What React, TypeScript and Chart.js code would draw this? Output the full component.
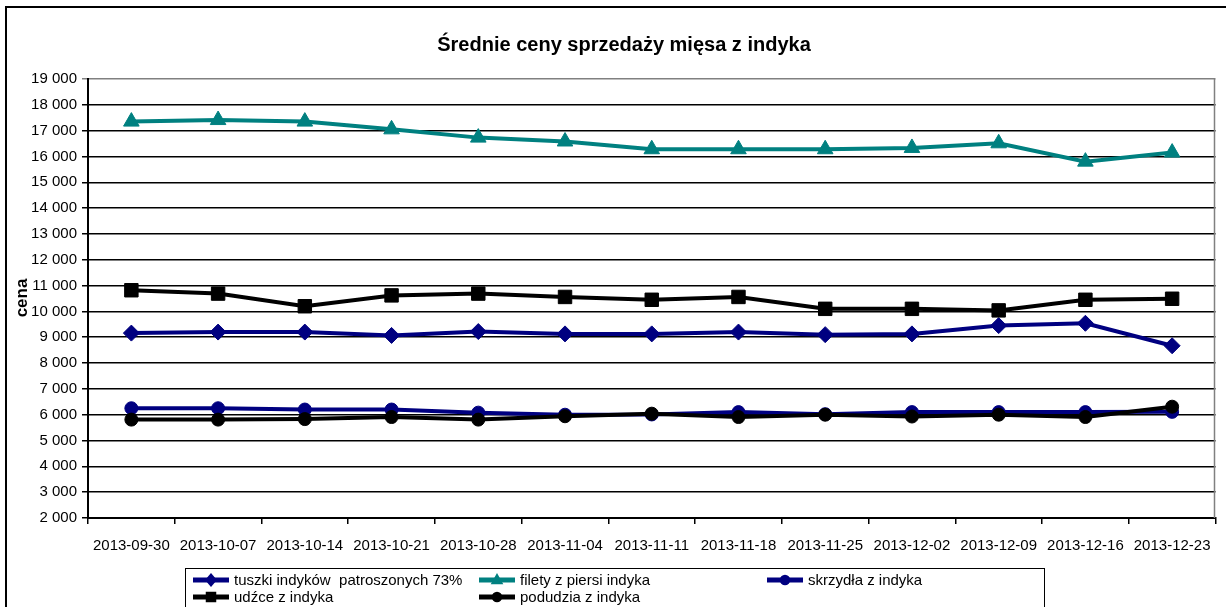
import React, { useEffect, useRef } from "react";
import { Chart, registerables } from "chart.js";

Chart.register(...registerables);

const chartTitle = "Średnie ceny sprzedaży mięsa z indyka";
const yAxisTitle = "cena";

const categories = [
  "2013-09-30", "2013-10-07", "2013-10-14", "2013-10-21", "2013-10-28",
  "2013-11-04", "2013-11-11", "2013-11-18", "2013-11-25", "2013-12-02",
  "2013-12-09", "2013-12-16", "2013-12-23",
];

const tuszki = [9160, 9200, 9200, 9070, 9220, 9130, 9130, 9200, 9100, 9130, 9450, 9540, 8670];
const filety = [17350, 17410, 17350, 17050, 16730, 16580, 16280, 16280, 16280, 16330, 16510, 15800, 16150];
const skrzydla = [6250, 6250, 6200, 6200, 6080, 6000, 6010, 6100, 6020, 6100, 6100, 6100, 6110];
const udzce = [10820, 10690, 10200, 10620, 10690, 10560, 10450, 10560, 10100, 10100, 10040, 10450, 10490];
const podudzia = [5810, 5810, 5830, 5910, 5810, 5940, 6040, 5910, 6000, 5930, 6000, 5910, 6310];

const seriesNames = [
  "tuszki indyków  patroszonych 73%",
  "filety z piersi indyka",
  "skrzydła z indyka",
  "udźce z indyka",
  "podudzia z indyka",
];

const yMin = 2000;
const yMax = 19000;
const yStep = 1000;

const NAVY = "#000080";
const TEAL = "#008080";
const BLACK = "#000000";
const FONT = "'Liberation Sans', Arial, sans-serif";

function drawMarker(ctx: CanvasRenderingContext2D, style: string, x: number, y: number, r: number, color: string) {
  ctx.save();
  ctx.fillStyle = color;
  ctx.beginPath();
  if (style === "rectRot") {
    ctx.moveTo(x, y - r);
    ctx.lineTo(x + r * 0.85, y);
    ctx.lineTo(x, y + r);
    ctx.lineTo(x - r * 0.85, y);
    ctx.closePath();
  } else if (style === "triangle") {
    ctx.moveTo(x, y - r);
    ctx.lineTo(x + r * 0.9, y + r * 0.6);
    ctx.lineTo(x - r * 0.9, y + r * 0.6);
    ctx.closePath();
  } else if (style === "rect") {
    ctx.rect(x - r * 0.75, y - r * 0.75, r * 1.5, r * 1.5);
  } else {
    ctx.arc(x, y, r * 0.75, 0, Math.PI * 2);
  }
  ctx.fill();
  ctx.restore();
}

const decorPlugin = {
  id: "decor",
  afterDraw(chart: any) {
    const ctx: CanvasRenderingContext2D = chart.ctx;
    const area = chart.chartArea;
    ctx.save();
    // outer frame
    ctx.strokeStyle = "#000";
    ctx.lineWidth = 2;
    ctx.strokeRect(6, 7, 1240, 640);
    // plot area right border
    ctx.strokeStyle = "#808080";
    ctx.lineWidth = 1.5;
    ctx.beginPath();
    ctx.moveTo(area.right - 1, area.top);
    ctx.lineTo(area.right - 1, area.bottom);
    ctx.stroke();
    // title
    ctx.fillStyle = "#000";
    ctx.font = `bold 20px ${FONT}`;
    ctx.textAlign = "center";
    ctx.textBaseline = "middle";
    ctx.fillText(chartTitle, 624, 45);
    // y axis title
    ctx.save();
    ctx.translate(22, 298);
    ctx.rotate(-Math.PI / 2);
    ctx.font = `bold 17px ${FONT}`;
    ctx.fillText(yAxisTitle, 0, 0);
    ctx.restore();
    // legend box
    ctx.strokeStyle = "#000";
    ctx.lineWidth = 1;
    ctx.strokeRect(185.5, 568.5, 859, 60);
    const pos = [
      [193, 580], [479, 580], [767, 580], [193, 597], [479, 597],
    ];
    chart.data.datasets.forEach((ds: any, i: number) => {
      const [lx, ly] = pos[i];
      ctx.strokeStyle = ds.borderColor;
      ctx.lineWidth = 5;
      ctx.beginPath();
      ctx.moveTo(lx, ly);
      ctx.lineTo(lx + 36, ly);
      ctx.stroke();
      drawMarker(ctx, ds.pointStyle, lx + 18, ly, 7, ds.borderColor);
      ctx.fillStyle = "#000";
      ctx.font = `15px ${FONT}`;
      ctx.textAlign = "left";
      ctx.textBaseline = "middle";
      ctx.fillText(seriesNames[i], lx + 41, ly + 1);
    });
    ctx.restore();
  },
};

export default function App() {
  const canvasRef = useRef<HTMLCanvasElement | null>(null);

  useEffect(() => {
    if (!canvasRef.current) return;
    const mk = (label: string, data: number[], color: string, style: string, radius: number, order: number) => ({
      label,
      data,
      borderColor: color,
      backgroundColor: color,
      pointBackgroundColor: color,
      pointBorderColor: color,
      pointBorderWidth: 1,
      pointStyle: style,
      pointRadius: radius,
      borderWidth: 4,
      tension: 0,
      order,
    });
    const chart = new Chart(canvasRef.current, {
      type: "line",
      data: {
        labels: categories,
        datasets: [
          mk(seriesNames[0], tuszki, NAVY, "rectRot", 8, 5),
          mk(seriesNames[1], filety, TEAL, "triangle", 9, 4),
          mk(seriesNames[2], skrzydla, NAVY, "circle", 6.5, 3),
          mk(seriesNames[3], udzce, BLACK, "rect", 9.5, 2),
          mk(seriesNames[4], podudzia, BLACK, "circle", 6.5, 1),
        ],
      },
      options: {
        animation: false,
        responsive: true,
        maintainAspectRatio: false,
        layout: { padding: { top: 79, right: 2, left: 0, bottom: 0 } },
        plugins: {
          legend: { display: false },
          title: { display: false },
          tooltip: { enabled: false },
        },
        scales: {
          x: {
            type: "category",
            offset: true,
            grid: {
              offset: true,
              drawOnChartArea: false,
              drawTicks: true,
              tickLength: 6,
              color: "#000",
              lineWidth: 1.5,
            },
            border: { display: true, color: "#000", width: 2 },
            ticks: {
              color: "#000",
              font: { family: FONT, size: 15 },
              padding: 13,
              maxRotation: 0,
              minRotation: 0,
              autoSkip: false,
            },
            afterFit: (scale: any) => {
              scale.height = 89;
            },
          },
          y: {
            min: yMin,
            max: yMax,
            grid: {
              color: (c: any) => (c.tick && c.tick.value === yMax ? "#808080" : "#000"),
              lineWidth: 1.5,
              tickLength: 6,
              drawTicks: true,
            },
            border: { display: true, color: "#000", width: 2 },
            ticks: {
              stepSize: yStep,
              color: "#000",
              font: { family: FONT, size: 15 },
              padding: 5,
              callback: (v: any) => {
                const n = Number(v);
                const s = String(Math.round(n));
                return s.replace(/\B(?=(\d{3})+(?!\d))/g, " ");
              },
            },
            afterFit: (scale: any) => {
              scale.width = 88;
            },
          },
        },
      },
      plugins: [decorPlugin],
    } as any);
    return () => chart.destroy();
  }, []);

  return (
    <div style={{ position: "absolute", left: 0, top: 0, width: 1226, height: 607, background: "#fff" }}>
      <canvas ref={canvasRef} />
    </div>
  );
}
